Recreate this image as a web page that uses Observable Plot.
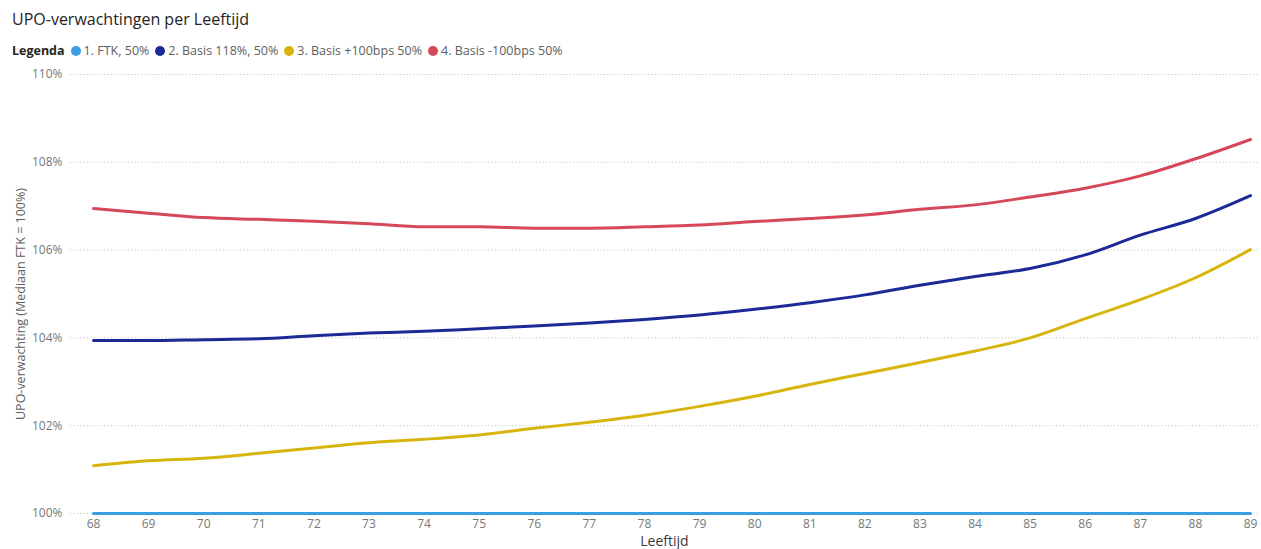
<!DOCTYPE html>
<html><head><meta charset="utf-8">
<script src="https://cdn.jsdelivr.net/npm/d3@7"></script>
<script src="https://cdn.jsdelivr.net/npm/@observablehq/plot@0.6"></script>
<style>
body{margin:0;background:#fff;font-family:"Open Sans",sans-serif;}
#wrap{position:relative;width:1261px;height:549px;overflow:hidden;background:#fff}
#title{position:absolute;left:12px;top:8px;font-size:16px;color:#252423;white-space:nowrap}
#legend{position:absolute;left:12px;top:42px;font-size:12.5px;color:#605E5C;display:flex;align-items:center;white-space:nowrap}
#legend b{color:#252423;font-weight:700;margin-right:6px}
#legend .sw{display:inline-block;width:10px;height:10px;border-radius:50%;margin-right:3px}
#legend .it{display:flex;align-items:center;margin-right:6px}
#chart{position:absolute;left:0;top:60px}
</style></head>
<body>
<div id="wrap">
  <div id="title"></div>
  <div id="legend"></div>
  <div id="chart"></div>
</div>
<script>
const titleText = "UPO-verwachtingen per Leeftijd";
const legendTitle = "Legenda";
const xTitle = "Leeftijd";
const yTitle = "UPO-verwachting (Mediaan FTK = 100%)";

const series = ["1. FTK, 50%", "2. Basis 118%, 50%", "3. Basis +100bps 50%", "4. Basis -100bps 50%"];
const colors = ["#3A9FE2", "#1B2A96", "#D8B50C", "#D5485A"];

const ages = [68,69,70,71,72,73,74,75,76,77,78,79,80,81,82,83,84,85,86,87,88,89];
const yTicks = [100,102,104,106,108,110];

const ftk     = [100,100,100,100,100,100,100,100,100,100,100,100,100,100,100,100,100,100,100,100,100,100];
const basis   = [103.94,103.94,103.96,103.98,104.05,104.11,104.15,104.21,104.27,104.34,104.42,104.52,104.65,104.80,104.98,105.20,105.40,105.58,105.89,106.34,106.72,107.24];
const plus100 = [101.09,101.20,101.26,101.37,101.49,101.61,101.69,101.79,101.94,102.08,102.24,102.44,102.67,102.94,103.19,103.44,103.70,104.00,104.44,104.87,105.37,106.01];
const min100  = [106.95,106.84,106.74,106.70,106.66,106.60,106.53,106.53,106.50,106.50,106.53,106.57,106.65,106.72,106.80,106.93,107.03,107.21,107.41,107.69,108.08,108.52];

const valuesBySeries = [ftk, basis, plus100, min100];
const data = series.flatMap((s, i) => ages.map((a, j) => ({series: s, age: a, value: valuesBySeries[i][j]})));

document.getElementById("title").textContent = titleText;
const lg = document.getElementById("legend");
const b = document.createElement("b"); b.textContent = legendTitle; lg.appendChild(b);
series.forEach((s, i) => {
  const it = document.createElement("span"); it.className = "it";
  const sw = document.createElement("span"); sw.className = "sw"; sw.style.background = colors[i];
  const t = document.createElement("span"); t.textContent = s;
  it.appendChild(sw); it.appendChild(t); lg.appendChild(it);
});

const chart = Plot.plot({
  width: 1261,
  height: 489,
  marginTop: 14,
  marginBottom: 36,
  marginLeft: 70,
  marginRight: 3,
  style: {fontFamily: "Open Sans, sans-serif", fontSize: "12px", color: "#605E5C", background: "#fff"},
  x: {domain: [68, 89], insetLeft: 23, insetRight: 8},
  y: {domain: [100, 110]},
  color: {domain: series, range: colors},
  marks: [
    Plot.ruleY(yTicks, {stroke: "#c8c6c4", strokeDasharray: "1.2,2.2", strokeWidth: 1}),
    Plot.axisY({ticks: yTicks, tickSize: 0, tickPadding: 8, tickFormat: d => d + "%", label: null, fill: "#777"}),
    Plot.axisX({ticks: ages, tickSize: 0, tickPadding: 6, tickFormat: d => String(d), label: null, fill: "#777"}),
    Plot.line(data, {x: "age", y: "value", z: "series", stroke: "series", strokeWidth: 3, curve: "monotone-x"}),
    Plot.text([xTitle], {frameAnchor: "bottom", dy: 28, lineAnchor: "middle", textAnchor: "middle", fontSize: 14, fill: "#3b3a39"}),
    Plot.text([yTitle], {frameAnchor: "left", dx: -50, dy: 10, rotate: -90, textAnchor: "middle", lineAnchor: "middle", fontSize: 12.5, fill: "#605E5C"})
  ]
});
document.getElementById("chart").appendChild(chart);
</script>
</body></html>
